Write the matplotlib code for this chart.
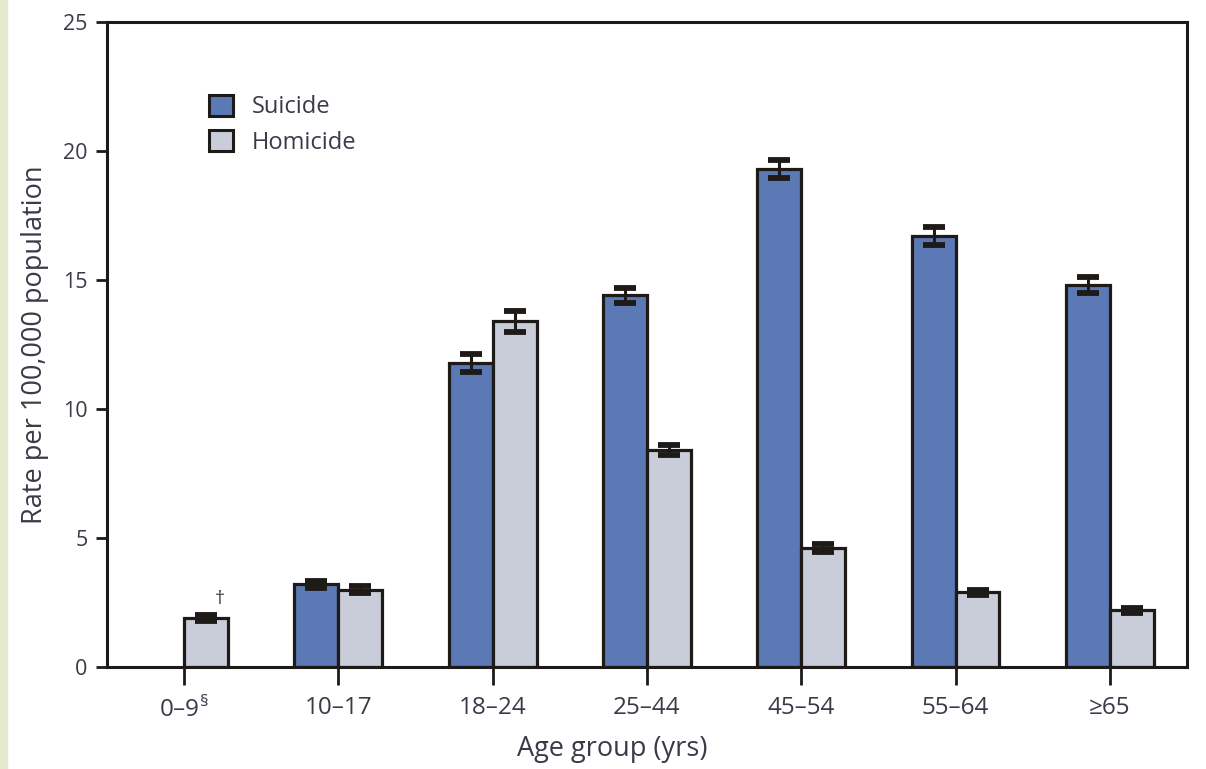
import numpy as np
import matplotlib
matplotlib.use('Agg')
import matplotlib.pyplot as plt
from matplotlib.patches import Patch, Rectangle

plt.rcParams['font.family'] = ['Open Sans', 'DejaVu Sans']
plt.rcParams['mathtext.fontset'] = 'custom'
plt.rcParams['mathtext.rm'] = 'Open Sans'

# rates per 100,000 by age group
age_groups = ['0–9$^{\\mathrm{§}}$', '10–17', '18–24', '25–44', '45–54', '55–64', '≥65']
suicide = [np.nan, 3.2, 11.8, 14.4, 19.3, 16.7, 14.8]
suicide_err = [0, 0.15, 0.35, 0.3, 0.35, 0.35, 0.3]
homicide = [1.9, 3.0, 13.4, 8.4, 4.6, 2.9, 2.2]
homicide_err = [0.1, 0.15, 0.4, 0.2, 0.15, 0.1, 0.1]

blue = '#5b79b4'
grey = '#c9cdda'
ink = '#3a3a48'
edge = '#1e1a18'

fig = plt.figure(figsize=(12.06, 7.69), dpi=100)
fig.patches.append(Rectangle((0, 0), 0.006, 1, transform=fig.transFigure,
                             color='#e4e9cc', zorder=0))
ax = fig.add_axes([0.0887, 0.1326, 0.8955, 0.8388])

x = np.arange(len(age_groups))
w = 0.285
ekw = dict(elinewidth=2.2, capsize=8, capthick=4.2, ecolor=edge)
ax.bar(x - w / 2, suicide, w, color=blue, edgecolor=edge, linewidth=2.3,
       yerr=suicide_err, error_kw=ekw, zorder=2)
ax.bar(x + w / 2, homicide, w, color=grey, edgecolor=edge, linewidth=2.3,
       yerr=homicide_err, error_kw=ekw, zorder=2)

ax.text(x[0] + w / 2 + 0.085, homicide[0] + 0.4, '†', ha='center', va='bottom',
        fontsize=14, color=ink)

ax.set_xlim(-0.5, 6.5)
ax.set_ylim(0, 25)
ax.set_yticks([0, 5, 10, 15, 20, 25])
ax.set_xticks(x)
ax.set_xticklabels(age_groups)
for s in ax.spines.values():
    s.set_linewidth(2.2)
    s.set_color(edge)
ax.tick_params(axis='y', direction='out', length=8, width=2, color=edge,
               labelsize=15.5, labelcolor=ink, pad=6)
ax.tick_params(axis='x', direction='out', length=13, width=2, color=edge,
               labelsize=17.5, labelcolor=ink, pad=8)
ax.set_xlabel('Age group (yrs)', fontsize=19.5, color=ink, labelpad=9)
ax.xaxis.label.set_x(0.468)
ax.set_ylabel('Rate per 100,000 population', fontsize=19.5, color=ink, labelpad=10)

handles = [Patch(facecolor=blue, edgecolor=edge, linewidth=2.2, label='Suicide'),
           Patch(facecolor=grey, edgecolor=edge, linewidth=2.2, label='Homicide')]
ax.legend(handles=handles, loc='upper left', bbox_to_anchor=(0.075, 0.92),
          frameon=False, fontsize=17, labelcolor=ink, handlelength=1.0,
          handleheight=1.0, handletextpad=0.8, labelspacing=0.45)

fig.savefig('out.png', dpi=100)
